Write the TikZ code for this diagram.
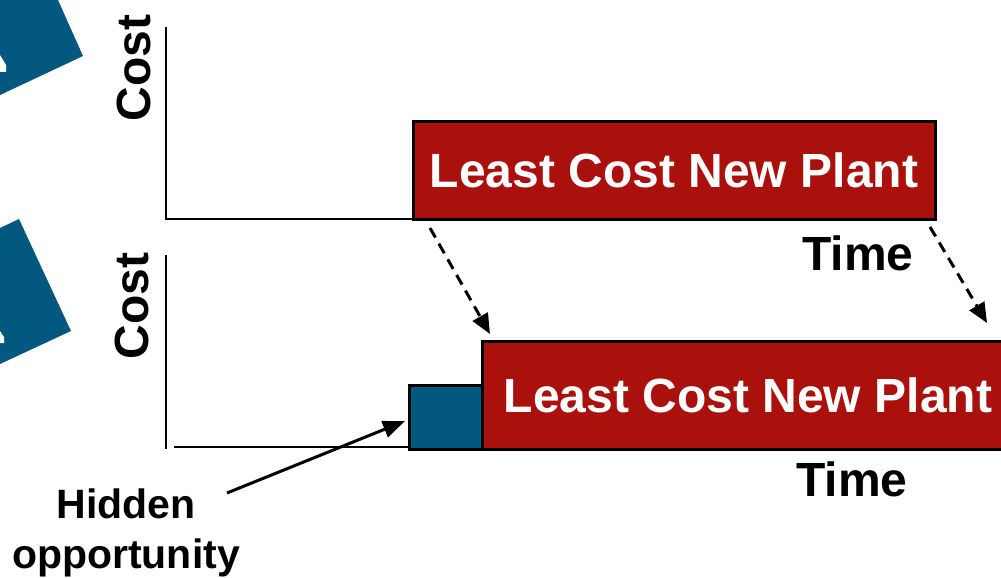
\documentclass[tikz,border=0pt]{standalone}
\usepackage{fontspec}
\setmainfont{Liberation Sans}
\usetikzlibrary{arrows.meta}
\definecolor{plantred}{RGB}{170,16,12}
\definecolor{oppblue}{RGB}{3,88,127}
\tikzset{
  axis/.style={line width=2.5pt, black},
  redbox/.style={draw=black, line width=3pt, fill=plantred, text=white, inner sep=0pt,
    font=\fontsize{48}{56}\selectfont\bfseries},
  bluebox/.style={draw=black, line width=3pt, fill=oppblue, inner sep=0pt},
  lbl/.style={font=\fontsize{48}{56}\selectfont\bfseries, inner sep=0pt},
  dasharrow/.style={line width=3pt, dash pattern=on 11pt off 7pt, -{Triangle[length=20pt,width=17pt]}},
  solidarrow/.style={line width=3pt, -{Triangle[length=22pt,width=17pt]}},
  notch/.style={fill=white, draw=none},
}
\begin{document}
\begin{tikzpicture}[x=1pt,y=-1pt]
\useasboundingbox (0,0) rectangle (1001,578);
\clip (0,0) rectangle (1001,578);
% decorative blue shapes on the left
\fill[oppblue] (0,0) -- (58,0) -- (83,56) -- (0,95) -- cycle;
\fill[notch] (0,55) -- (6,65) -- (6,72) -- (0,72) -- cycle;
\fill[oppblue] (0,228) -- (19,219) -- (71,331) -- (0,364) -- cycle;
\fill[notch] (0,331) -- (4,337) -- (4,343) -- (0,343) -- cycle;

% top chart
\coordinate (ya1) at (166,27);
\coordinate (o1) at (166,219);
\coordinate (xa1) at (413,219);
\draw[axis] (ya1) -- (o1) -- (xa1);
\node[redbox, minimum width=522pt, minimum height=98pt] (plant1) at (674,170) {Least Cost New Plant};
\node[lbl, rotate=90, anchor=base] (cost1) at (150,68) {Cost};
\node[lbl, anchor=base] (time1) at (858,270) {Time};

% bottom chart
\coordinate (ya2) at (166,255);
\coordinate (o2) at (166,449);
\draw[axis] (ya2) -- (o2);
\coordinate (xa2s) at (174,447);
\coordinate (xa2e) at (409,447);
\draw[axis] (xa2s) -- (xa2e);
\node[bluebox, minimum width=73pt, minimum height=64pt] (opp) at (445.5,417) {};
\node[redbox, minimum width=532pt, minimum height=108pt] (plant2) at (748,395) {Least Cost New Plant};
\node[lbl, rotate=90, anchor=base] (cost2) at (148,306) {Cost};
\node[lbl, anchor=base] (time2) at (852,496) {Time};

% dashed shift arrows
\coordinate (d1s) at (430,228);
\coordinate (d1e) at (490,334);
\coordinate (d2s) at (930,227);
\coordinate (d2e) at (987,323);
\draw[dasharrow] (d1s) -- (d1e);
\draw[dasharrow] (d2s) -- (d2e);

% hidden opportunity
\node[font=\fontsize{41}{50}\selectfont\bfseries, align=center, inner sep=0pt, anchor=north] (hidden) at (126,489) {Hidden\\opportunity};
\coordinate (hs) at (227,493);
\coordinate (he) at (405,421);
\draw[solidarrow] (hs) -- (he);
\end{tikzpicture}
\end{document}
